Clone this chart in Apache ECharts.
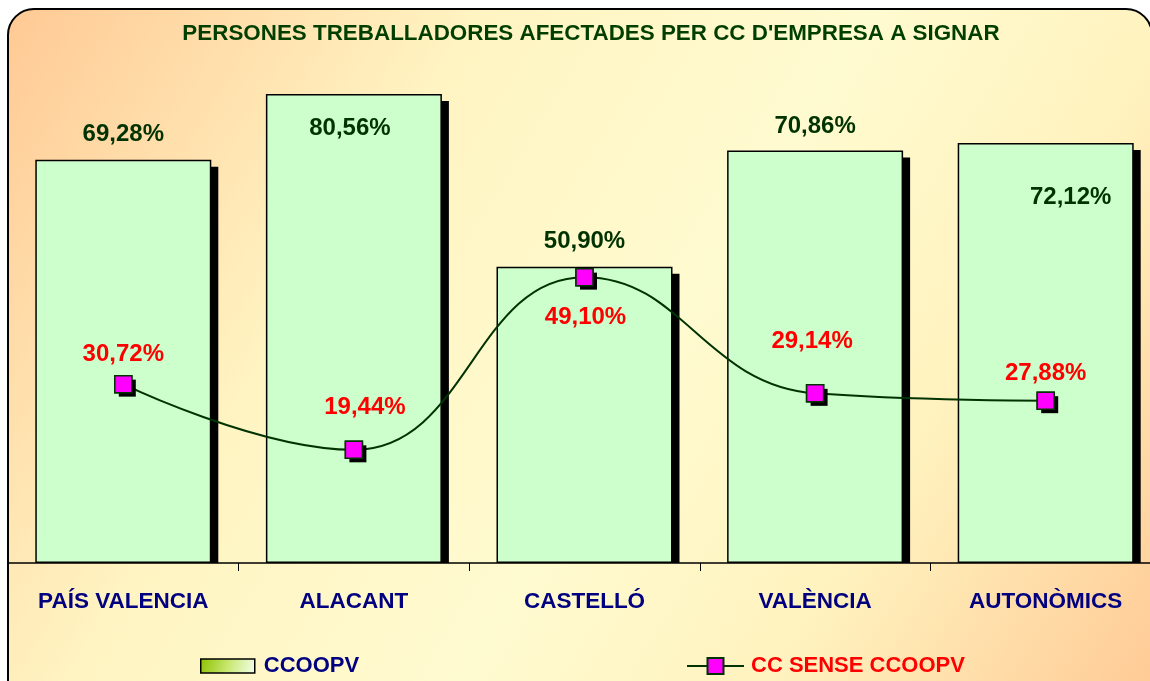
<!DOCTYPE html>
<html>
<head>
<meta charset="utf-8">
<title>Persones treballadores afectades</title>
<script src="https://cdn.jsdelivr.net/npm/echarts@6/dist/echarts.min.js"></script>
<style>
  html, body { margin: 0; padding: 0; background: #fff; }
  #chart { width: 1150px; height: 681px; }
</style>
</head>
<body>
<div id="chart"></div>
<script>
const categories = ['PAÍS VALENCIA', 'ALACANT', 'CASTELLÓ', 'VALÈNCIA', 'AUTONÒMICS'];
const ccoopv = [69.28, 80.56, 50.90, 70.86, 72.12];
const senseCcoopv = [30.72, 19.44, 49.10, 29.14, 27.88];
const seriesNames = ['CCOOPV', 'CC SENSE CCOOPV'];

// the labels were placed by hand in the original, so nudge each one
const barLabelOffsets = [[0, -13], [-4, 46], [0, -13], [0, -12], [25, 66]];
const lineLabelOffsets = [[0, -30], [11, -42], [1, 40], [-3, -52], [0, -27]];

const FONT = '"Liberation Sans", Arial, sans-serif';
const fmt = v => v.toFixed(2).replace('.', ',') + '%';

const chart = echarts.init(document.getElementById('chart'));

const option = {
  backgroundColor: '#fff',
  animation: false,
  graphic: [{
    type: 'rect',
    z: 0,
    shape: { x: 8, y: 9, width: 1144, height: 700, r: 26 },
    style: {
      fill: new echarts.graphic.LinearGradient(0, 0, 1, 1, [
        { offset: 0, color: '#FFC994' },
        { offset: 0.3, color: '#FFF4C2' },
        { offset: 0.55, color: '#FFFBD0' },
        { offset: 0.75, color: '#FFF2BE' },
        { offset: 1, color: '#FFC994' }
      ]),
      stroke: '#000',
      lineWidth: 2
    }
  }],
  title: {
    text: "PERSONES TREBALLADORES AFECTADES PER CC D'EMPRESA A SIGNAR",
    left: 586,
    textAlign: 'center',
    top: 18,
    textStyle: { color: '#003F00', fontSize: 22.4, fontWeight: 'bold', fontFamily: FONT }
  },
  legend: [{
    data: [{
      name: seriesNames[0],
      icon: 'rect',
      itemStyle: {
        color: new echarts.graphic.LinearGradient(0, 0, 1, 1, [
          { offset: 0, color: '#8CC000' },
          { offset: 0.5, color: '#C8E870' },
          { offset: 1, color: '#F4FFF0' }
        ]),
        borderColor: '#000',
        borderWidth: 1.5
      }
    }],
    left: 195,
    top: 650,
    itemWidth: 54,
    itemHeight: 14,
    textStyle: { color: '#000080', fontSize: 22, fontWeight: 'bold', fontFamily: FONT, padding: [0, 0, 0, 4] }
  }, {
    data: [seriesNames[1]],
    left: 681,
    top: 650,
    itemWidth: 57,
    itemHeight: 20,
    textStyle: { color: '#FF0000', fontSize: 22, fontWeight: 'bold', fontFamily: FONT, padding: [0, 0, 0, 2] }
  }],
  grid: { left: 8, right: -11, top: 39, bottom: 118, outerBoundsMode: 'none' },
  xAxis: {
    type: 'category',
    data: categories,
    axisLine: { lineStyle: { color: '#000', width: 1.5 } },
    axisTick: { show: true, length: 8, lineStyle: { color: '#000', width: 1 } },
    axisLabel: { color: '#000080', fontSize: 22.5, fontWeight: 'bold', fontFamily: FONT, margin: 27 }
  },
  yAxis: { type: 'value', min: 0, max: 90, show: false, splitLine: { show: false } },
  series: [
    {
      // flat black shadow behind each bar, stopping at the axis
      type: 'custom',
      silent: true,
      z: 1,
      data: ccoopv.map((v, i) => [i, v]),
      renderItem(params, api) {
        const top = api.coord([api.value(0), api.value(1)]);
        const base = api.coord([api.value(0), 0]);
        const w = 176;
        return {
          type: 'rect',
          shape: { x: top[0] - w / 2 + 7, y: top[1] + 7, width: w, height: base[1] - top[1] - 7 },
          style: { fill: '#000' }
        };
      }
    },
    {
      name: seriesNames[0],
      type: 'bar',
      z: 2,
      barWidth: 176,
      itemStyle: { color: '#CCFFCC', borderColor: '#000', borderWidth: 1.5 },
      label: {
        show: true,
        position: 'top',
        distance: 0,
        formatter: p => fmt(p.value),
        color: '#003300',
        fontSize: 24,
        fontWeight: 'bold',
        fontFamily: FONT
      },
      data: ccoopv.map((v, i) => ({ value: v, label: { offset: barLabelOffsets[i] } }))
    },
    {
      name: seriesNames[1],
      type: 'line',
      z: 3,
      smooth: 0.45,
      symbol: 'rect',
      symbolSize: 17,
      lineStyle: { color: '#003300', width: 2 },
      itemStyle: { color: '#FF00FF', borderColor: '#003300', borderWidth: 1.5 },
      label: {
        show: true,
        position: 'inside',
        formatter: p => fmt(p.value),
        color: '#FF0000',
        fontSize: 24,
        fontWeight: 'bold',
        fontFamily: FONT
      },
      data: senseCcoopv.map((v, i) => ({ value: v, label: { offset: lineLabelOffsets[i] } }))
    },
    {
      // drop shadow of the square markers
      type: 'line',
      silent: true,
      z: 3,
      symbol: 'rect',
      symbolSize: 17,
      symbolOffset: [4, 4],
      showSymbol: true,
      lineStyle: { width: 0, opacity: 0 },
      itemStyle: { color: '#000' },
      data: senseCcoopv
    },
    {
      // markers drawn again on top of their shadows
      type: 'line',
      silent: true,
      z: 4,
      symbol: 'rect',
      symbolSize: 17,
      lineStyle: { width: 0, opacity: 0 },
      itemStyle: { color: '#FF00FF', borderColor: '#003300', borderWidth: 1.5 },
      data: senseCcoopv
    }
  ]
};

chart.setOption(option);
</script>
</body>
</html>
